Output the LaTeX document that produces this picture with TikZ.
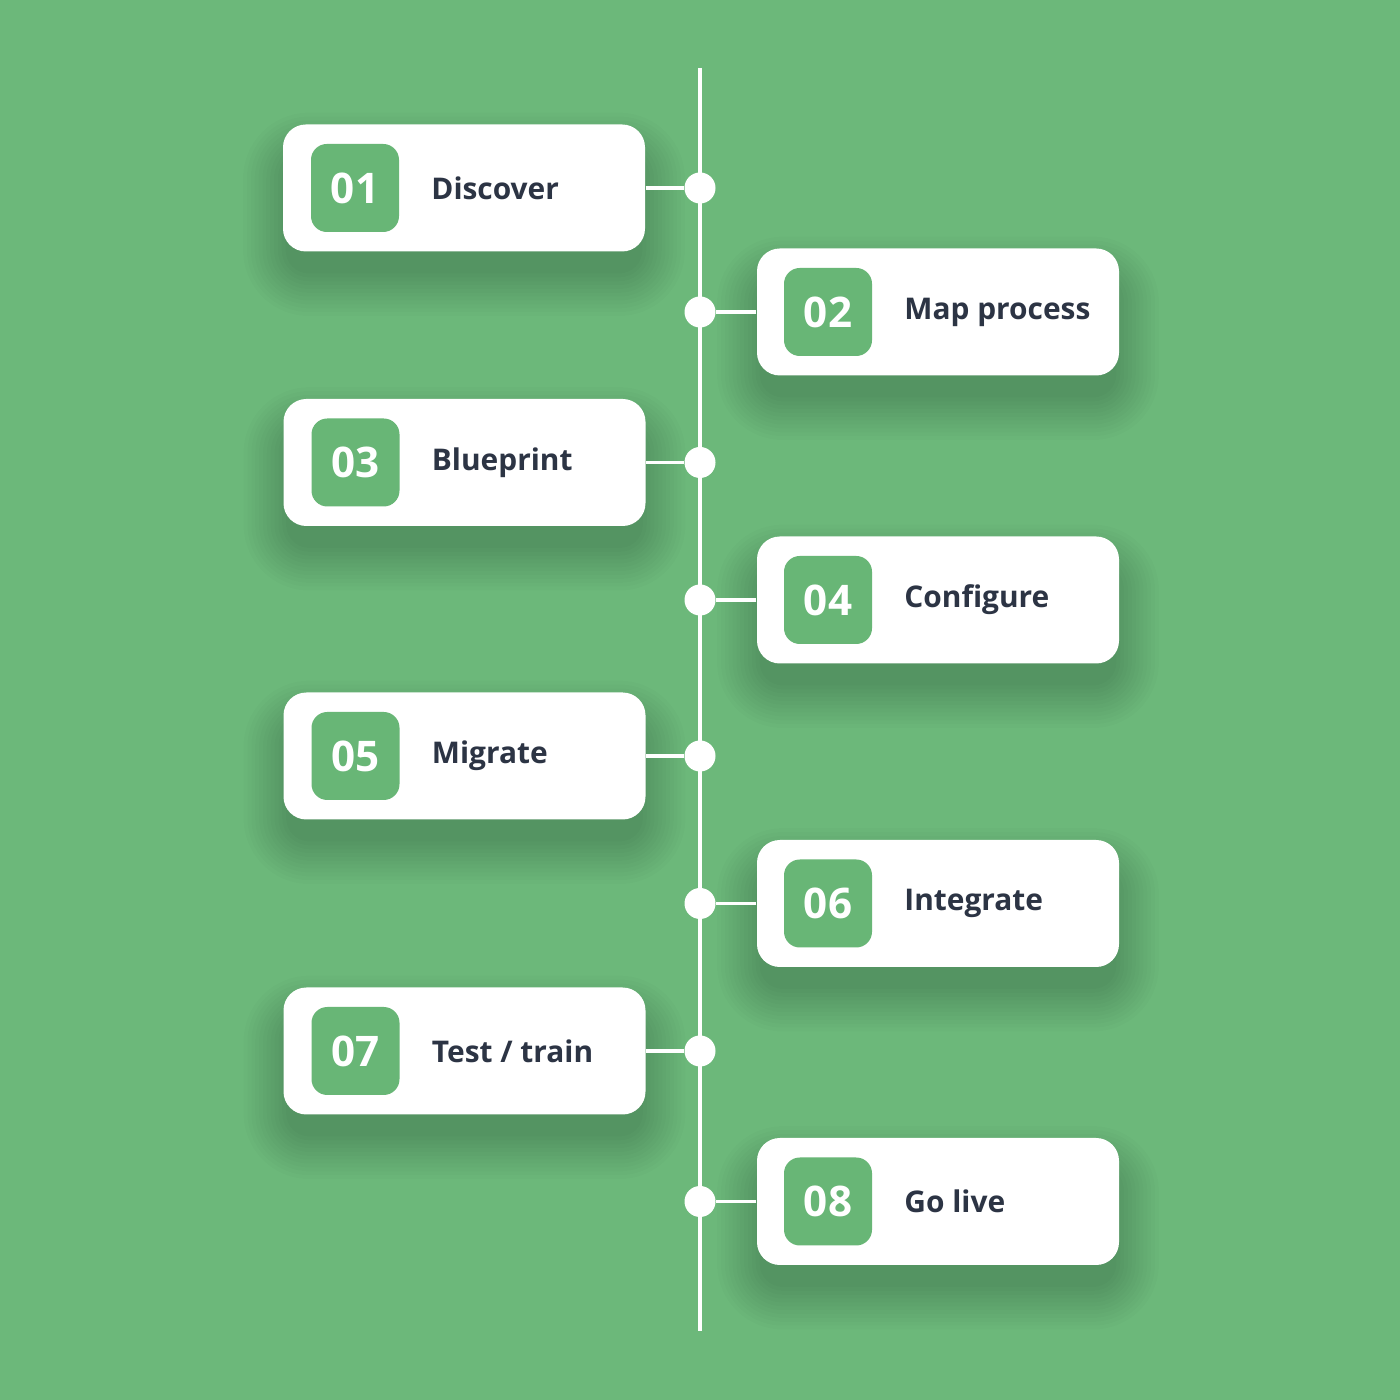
\documentclass[tikz,border=0pt]{standalone}
\usepackage{fontspec}
\setmainfont{Open Sans}
\usetikzlibrary{positioning}
\definecolor{leaf}{HTML}{6CB87A}
\definecolor{chip}{HTML}{68B676}
\definecolor{ink}{HTML}{2C3444}
\pgfdeclarelayer{under}
\pgfsetlayers{under,main}
\begin{document}
\begin{tikzpicture}[
  card/.style={fill=white,rounded corners=6.5pt,minimum width=3.62cm,minimum height=1.27cm},
  badge/.style={fill=chip,rounded corners=4.5pt,minimum size=0.88cm,inner sep=0pt,
    text=white,font=\fontsize{12}{12}\selectfont\bfseries},
  label/.style={inner sep=0pt,text=ink,font=\fontsize{8.5}{10}\selectfont\bfseries},
  dot/.style={circle,fill=white,minimum size=0.31cm,inner sep=0pt},
  link/.style={white,line width=1.1pt},
  haze/.style={fill=black,opacity=0.014}]
\coordinate (top) at (7,13.32);
\coordinate (bot) at (7,0.69);
\draw[link] (top) -- (bot);
% left column
\node[card] (c1) at (4.64,12.12) {};
\node[card] (c3) at (4.645,9.375) {};
\node[card] (c5) at (4.645,6.44) {};
\node[card] (c7) at (4.645,3.49) {};
% right column
\node[card] (c2) at (9.38,10.88) {};
\node[card] (c4) at (9.38,8.0) {};
\node[card] (c6) at (9.38,4.965) {};
\node[card] (c8) at (9.38,1.985) {};
\node[badge,right=0.28cm of c1.west] (b1) {01};
\node[badge,right=0.27cm of c2.west] (b2) {02};
\node[badge,right=0.28cm of c3.west] (b3) {03};
\node[badge,right=0.27cm of c4.west] (b4) {04};
\node[badge,right=0.28cm of c5.west] (b5) {05};
\node[badge,right=0.27cm of c6.west] (b6) {06};
\node[badge,right=0.28cm of c7.west] (b7) {07};
\node[badge,right=0.27cm of c8.west] (b8) {08};
\node[label,right=0.31cm of b1.east] (t1) {Discover};
\node[label,right=0.31cm of b2.east] (t2) {Map process};
\node[label,right=0.31cm of b3.east] (t3) {Blueprint};
\node[label,right=0.31cm of b4.east] (t4) {Configure};
\node[label,right=0.31cm of b5.east] (t5) {Migrate};
\node[label,right=0.31cm of b6.east] (t6) {Integrate};
\node[label,right=0.31cm of b7.east] (t7) {Test / train};
\node[label,right=0.31cm of b8.east] (t8) {Go live};
\node[dot] (d1) at (c1.east -| top) {};
\node[dot] (d2) at (c2.west -| top) {};
\node[dot] (d3) at (c3.east -| top) {};
\node[dot] (d4) at (c4.west -| top) {};
\node[dot] (d5) at (c5.east -| top) {};
\node[dot] (d6) at (c6.west -| top) {};
\node[dot] (d7) at (c7.east -| top) {};
\node[dot] (d8) at (c8.west -| top) {};
\draw[link] (c1.east) -- (d1);
\draw[link] (c2.west) -- (d2);
\draw[link] (c3.east) -- (d3);
\draw[link] (c4.west) -- (d4);
\draw[link] (c5.east) -- (d5);
\draw[link] (c6.west) -- (d6);
\draw[link] (c7.east) -- (d7);
\draw[link] (c8.west) -- (d8);
% soft shadows under the cards
\begin{pgfonlayer}{under}
\fill[leaf] (0,0) rectangle (14,14);
\foreach \c in {c1,c2,c3,c4,c5,c6,c7,c8}
  \foreach \k in {0,...,11}
    \fill[haze,rounded corners=6.5pt+\k*1.1pt]
      ([shift={(-\k*1.1pt+1pt,-\k*1.1pt-6pt)}]\c.south west)
      rectangle ([shift={(\k*1.1pt-1pt,\k*1.1pt-9pt)}]\c.north east);
\end{pgfonlayer}
\useasboundingbox (0,0) rectangle (14,14);
\end{tikzpicture}
\end{document}
